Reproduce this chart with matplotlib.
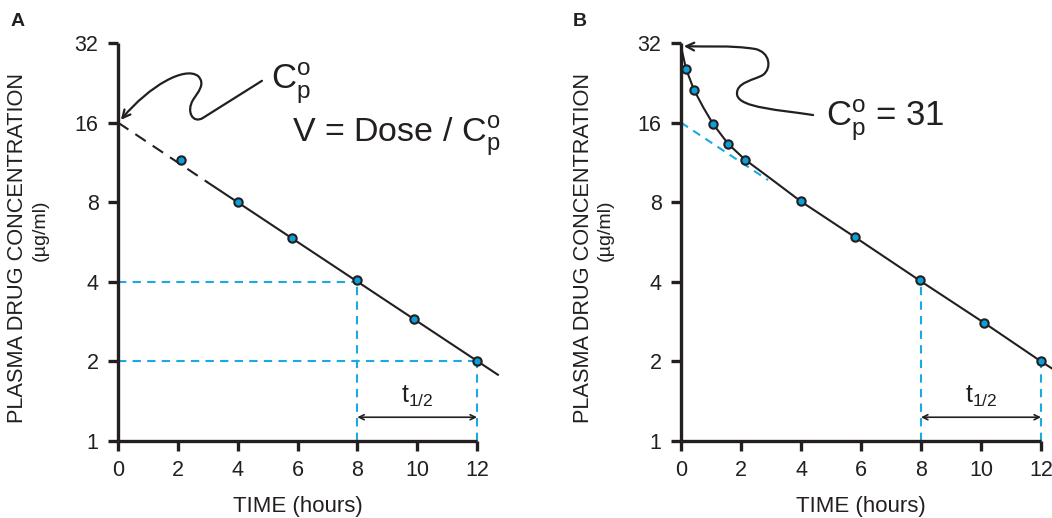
import matplotlib.pyplot as plt
from matplotlib.path import Path
from matplotlib.patches import FancyArrowPatch

plt.rcParams['font.family'] = ['Liberation Sans', 'DejaVu Sans']
plt.rcParams['mathtext.fontset'] = 'custom'
plt.rcParams['mathtext.rm'] = 'Liberation Sans'
plt.rcParams['mathtext.it'] = 'Liberation Sans'

# panel A: one-compartment decline
a_time = [2.1, 4.0, 5.8, 8.0, 9.9, 12.0]
a_conc = [11.6, 8.0, 5.85, 4.05, 2.9, 2.0]
a_line_time = [0, 3.0, 12.7]
a_line_conc = [16, 9.5, 1.78]

# panel B: two-compartment decline
b_time = [0.17, 0.43, 1.07, 1.57, 2.13, 4.0, 5.8, 7.95, 10.1, 12.0]
b_conc = [25.5, 21.3, 15.8, 13.3, 11.6, 8.05, 5.9, 4.05, 2.8, 2.0]
b_line_time = [0, 0.17, 0.43, 0.75, 1.07, 1.57, 2.13, 3.0, 4.0, 5.8, 7.95, 10.1, 12.0, 12.4]
b_line_conc = [31, 25.5, 21.3, 18.2, 15.8, 13.3, 11.6, 9.8, 8.05, 5.9, 4.05, 2.8, 2.0, 1.87]
b_extrap_time = [0, 2.9]
b_extrap_conc = [16, 9.7]

yticks = [1, 2, 4, 8, 16, 32]
xticks = [0, 2, 4, 6, 8, 10, 12]

ink = '#231f20'
blue = '#1aaae2'
marker_blue = '#0aa0dc'

fig = plt.figure(figsize=(10.52, 5.18), dpi=100)
axA = fig.add_axes([118 / 1052, 77 / 518, 359 / 1052, 398 / 518])
axB = fig.add_axes([681 / 1052, 77 / 518, 360 / 1052, 398 / 518])


def style_axes(ax):
    ax.set_yscale('log', base=2)
    ax.set_ylim(1, 32)
    ax.set_xlim(0, 12)
    ax.set_yticks(yticks)
    ax.set_yticklabels([str(v) for v in yticks])
    ax.minorticks_off()
    ax.set_xticks(xticks)
    for s in ['top', 'right']:
        ax.spines[s].set_visible(False)
    for s in ['left', 'bottom']:
        ax.spines[s].set_linewidth(2.4)
        ax.spines[s].set_color(ink)
        ax.spines[s].set_capstyle('butt')
    ax.tick_params(axis='both', length=7, width=2.4, color=ink, labelsize=15.5,
                   labelcolor=ink, pad=7)
    ax.patch.set_alpha(0)
    ax.text(0.5, -0.165, 'TIME (hours)', transform=ax.transAxes, ha='center',
            va='center', fontsize=16, color=ink)


def ylabel(ax, x1, x2):
    ax.text(x1, 0.485, 'PLASMA DRUG CONCENTRATION', transform=ax.transAxes,
            rotation=90, ha='center', va='center', fontsize=15.7, color=ink)
    ax.text(x2, 0.53, '(µg/ml)', transform=ax.transAxes, rotation=90,
            ha='center', va='center', fontsize=14, color=ink)


def halflife(ax):
    ax.plot([8, 8], [1, 4], ls=(0, (4, 3)), color=blue, lw=1.5, clip_on=False)
    ax.plot([12, 12], [1, 2], ls=(0, (4, 3)), color=blue, lw=1.5, clip_on=False)
    ax.annotate('', xy=(12, 1.23), xytext=(8, 1.23),
                arrowprops=dict(arrowstyle='<->', color=ink, lw=1.2,
                                shrinkA=0, shrinkB=0, mutation_scale=9))
    ax.text(10, 1.39, r'$\mathrm{t}_{1/2}$', ha='center', va='baseline',
            fontsize=18, color=ink)


def curly(ax, verts, codes):
    p = FancyArrowPatch(path=Path(verts, codes), transform=ax.transAxes,
                        arrowstyle='->', mutation_scale=14, lw=1.6, color=ink,
                        clip_on=False)
    ax.add_patch(p)


# ---- panel A
style_axes(axA)
ylabel(axA, -0.279, -0.217)
axA.plot([0, 8], [4, 4], ls=(0, (4, 3)), color=blue, lw=1.5)
axA.plot([0, 12], [2, 2], ls=(0, (4, 3)), color=blue, lw=1.5)
halflife(axA)
axA.plot(a_line_time[:2], a_line_conc[:2], color=ink, lw=1.5, ls=(0, (6, 4)))
axA.plot(a_line_time[1:], a_line_conc[1:], color=ink, lw=1.5, clip_on=False)
axA.plot(a_time, a_conc, 'o', ms=6, mfc=marker_blue, mec=ink, mew=1.5,
         clip_on=False, zorder=5)

vertsA = [(0.401, 0.905), (0.237, 0.812),
          (0.209, 0.796), (0.189, 0.827), (0.209, 0.857),
          (0.223, 0.877), (0.245, 0.897), (0.223, 0.917),
          (0.187, 0.942), (0.089, 0.894), (0.008, 0.807)]
codesA = [Path.MOVETO, Path.LINETO] + [Path.CURVE4] * 9
curly(axA, vertsA, codesA)
axA.text(0.426, 0.882, r'$\mathrm{C}_\mathrm{p}^\mathrm{o}$', transform=axA.transAxes,
         ha='left', va='baseline', fontsize=25, color=ink)
axA.text(0.485, 0.749, r'V = Dose / $\mathrm{C}_\mathrm{p}^\mathrm{o}$',
         transform=axA.transAxes, ha='left', va='baseline', fontsize=24.5, color=ink)
fig.text(18 / 1052, 1 - 22 / 518, 'A', fontsize=14, fontweight='bold', color=ink,
         ha='center', va='center')

# ---- panel B
style_axes(axB)
ylabel(axB, -0.272, -0.211)
halflife(axB)
axB.plot(b_extrap_time, b_extrap_conc, ls=(0, (4, 3)), color=blue, lw=1.5)
axB.plot(b_line_time, b_line_conc, color=ink, lw=1.5, clip_on=False)
axB.plot(b_time, b_conc, 'o', ms=6, mfc=marker_blue, mec=ink, mew=1.5,
         clip_on=False, zorder=5)

vertsB = [(0.367, 0.819),
          (0.275, 0.832), (0.164, 0.837), (0.156, 0.869),
          (0.150, 0.902), (0.206, 0.907), (0.228, 0.920),
          (0.253, 0.937), (0.247, 0.977), (0.206, 0.985),
          (0.136, 0.995), (0.067, 0.990), (0.008, 0.992)]
codesB = [Path.MOVETO] + [Path.CURVE4] * 12
curly(axB, vertsB, codesB)
axB.text(0.403, 0.789, r'$\mathrm{C}_\mathrm{p}^\mathrm{o}$ = 31', transform=axB.transAxes,
         ha='left', va='baseline', fontsize=25, color=ink)
fig.text(580 / 1052, 1 - 22 / 518, 'B', fontsize=14, fontweight='bold', color=ink,
         ha='center', va='center')

fig.savefig('out.png', dpi=100)
